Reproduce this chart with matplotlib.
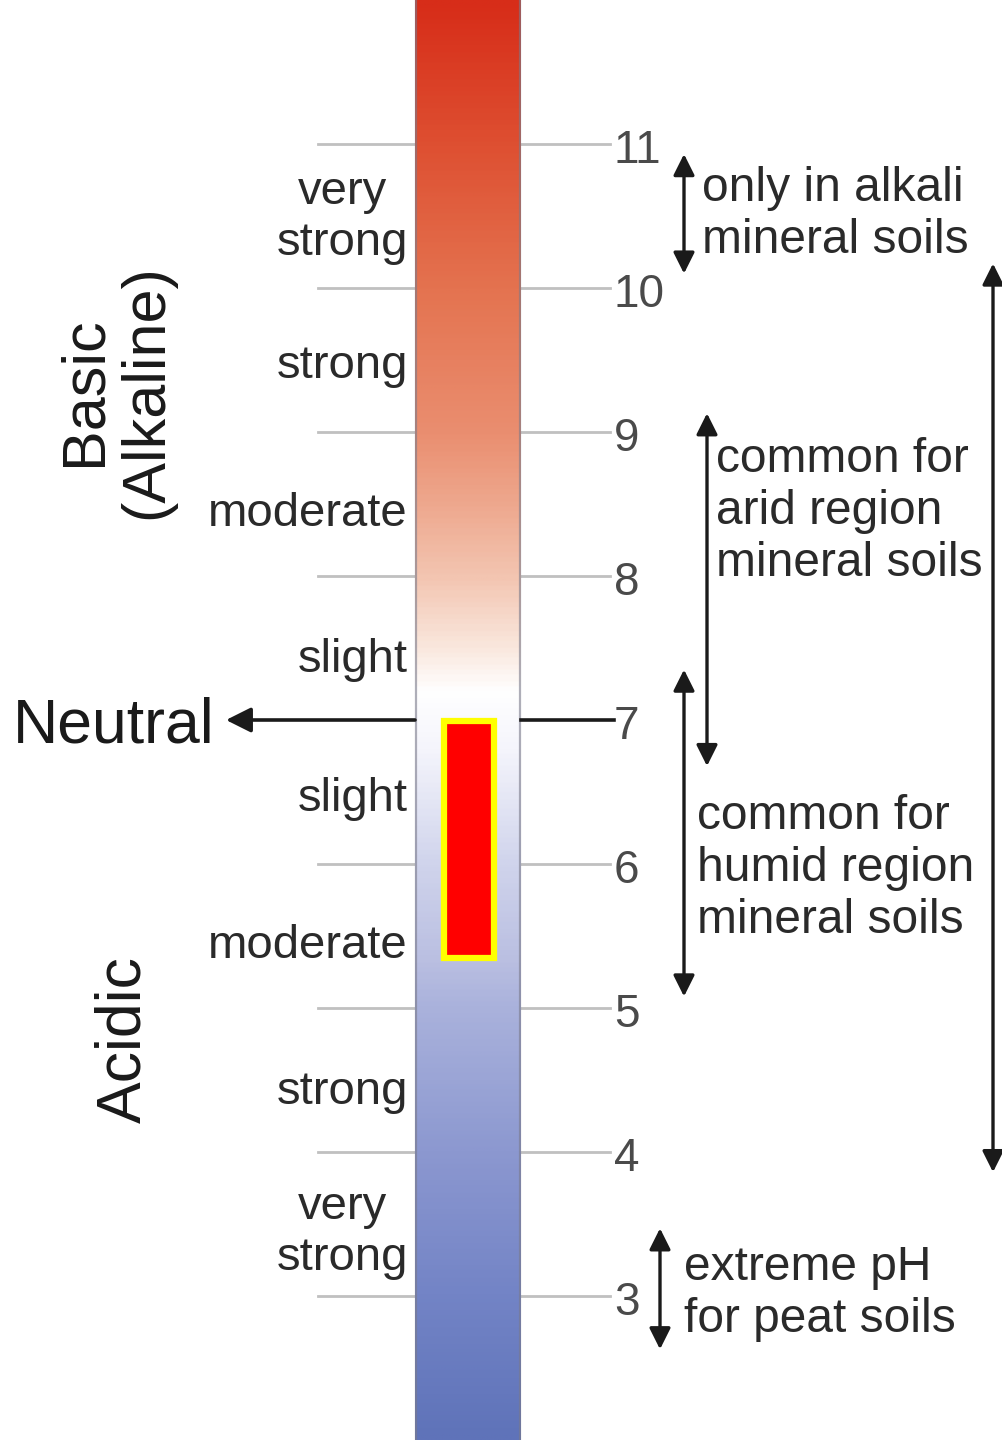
import numpy as np
import matplotlib
matplotlib.use("Agg")
import matplotlib.pyplot as plt
from matplotlib.colors import LinearSegmentedColormap
from matplotlib.patches import Rectangle

plt.rcParams['font.family'] = ['Liberation Sans', 'DejaVu Sans']

# ---- data ----
ph_ticks = [3, 4, 5, 6, 7, 8, 9, 10, 11]
ph_min, ph_max = 2, 12
strength_labels = ["very\nstrong", "strong", "moderate", "slight",
                   "slight", "moderate", "strong", "very\nstrong"]
strength_ph = [10.49, 9.46, 8.43, 7.42, 6.45, 5.43, 4.42, 3.44]
highlight_range = (5.35, 6.99)
neutral_ph = 7
range_labels = ["only in alkali\nmineral soils",
                "common for\narid region\nmineral soils",
                "common for\nhumid region\nmineral soils",
                "extreme pH\nfor peat soils"]
range_lo = [10.1, 6.68, 5.08, 2.63]
range_hi = [10.93, 9.13, 7.35, 3.47]
range_text_ph = [10.51, 8.45, 5.97, 3.02]
overall_range = (3.86, 10.17)
grad_ph = [2, 3, 4, 5, 5.3, 6, 6.8, 7.2, 7.5, 8, 8.5, 9, 10, 11, 12]
grad_rgb = [(95, 115, 185), (115, 132, 198), (140, 152, 208), (170, 178, 220),
            (185, 190, 225), (208, 212, 236), (245, 245, 252), (255, 255, 255),
            (250, 232, 222), (243, 197, 177), (238, 168, 142), (234, 142, 112),
            (228, 115, 80), (222, 80, 50), (215, 45, 25)]

# ---- figure ----
W, H = 1003, 1440
fig = plt.figure(figsize=(W / 100, H / 100), dpi=100)
ax = fig.add_axes([0, 0, 1, 1])
ax.set_xlim(0, W)
ax.set_ylim(ph_min, ph_max)
ax.axis('off')

bar_x0, bar_x1 = 415, 521

# gradient bar
pos = [(p - ph_min) / (ph_max - ph_min) for p in grad_ph]
cmap = LinearSegmentedColormap.from_list(
    'ph', list(zip(pos, [tuple(c / 255 for c in rgb) for rgb in grad_rgb])))
grad = np.linspace(ph_min, ph_max, 600).reshape(-1, 1)
ax.imshow(grad, cmap=cmap, vmin=ph_min, vmax=ph_max, origin='lower',
          extent=(bar_x0, bar_x1, ph_min, ph_max), aspect='auto', zorder=1)
# subtle edge shading
for xe in (bar_x0 + 1, bar_x1 - 1):
    ax.plot([xe, xe], [ph_min, ph_max], color='#7a7a8a', lw=1.6, alpha=0.6, zorder=2)

# tick lines and numbers
for p in ph_ticks:
    if p == neutral_ph:
        ax.plot([bar_x1, 614], [p, p], color='#1a1a1a', lw=2.6, zorder=2)
    else:
        ax.plot([318, bar_x0], [p, p], color='#c0c0c0', lw=2, zorder=0)
        ax.plot([bar_x1, 610], [p, p], color='#c0c0c0', lw=2, zorder=0)
    ax.text(614, p - 0.05, str(p), ha='left', va='center', fontsize=33,
            color='#4a4a4a', zorder=3)

# strength labels
for lab, p in zip(strength_labels, strength_ph):
    ax.text(408, p, lab, ha='right', va='center', multialignment='center',
            fontsize=34, color='#2a2a2a', linespacing=1.2)

# Neutral arrow
ax.annotate('', xy=(226, neutral_ph), xytext=(bar_x0, neutral_ph),
            arrowprops=dict(arrowstyle='-|>', color='#1a1a1a', lw=2.6,
                            mutation_scale=38, shrinkA=0, shrinkB=0))
ax.text(215, neutral_ph - 0.04, 'Neutral', ha='right', va='center', fontsize=45,
        color='#1a1a1a')

# Basic / Acidic
ax.text(116, 9.28, 'Basic\n(Alkaline)', ha='center', va='center', rotation=90,
        fontsize=44, color='#1a1a1a', linespacing=1.12, multialignment='center')
ax.text(124, 4.78, 'Acidic', ha='center', va='center', rotation=90,
        fontsize=45, color='#1a1a1a')

# highlight rectangle
ax.add_patch(Rectangle((444.5, highlight_range[0]), 49.5,
                       highlight_range[1] - highlight_range[0],
                       facecolor='#ff0000', edgecolor='#ffff00', lw=4.5, zorder=4))

# range arrows
arrow_x = [684, 707, 684, 660]
text_x = [702, 716, 697, 684]
for lo, hi, tp, lab, axx, tx in zip(range_lo, range_hi, range_text_ph,
                                    range_labels, arrow_x, text_x):
    ax.annotate('', xy=(axx, hi), xytext=(axx, lo),
                arrowprops=dict(arrowstyle='<|-|>', color='#1a1a1a', lw=2.4,
                                mutation_scale=32, shrinkA=0, shrinkB=0))
    ax.text(tx, tp, lab, ha='left', va='center', fontsize=34.5, color='#2a2a2a',
            linespacing=1.2)

ax.annotate('', xy=(993, overall_range[1]), xytext=(993, overall_range[0]),
            arrowprops=dict(arrowstyle='<|-|>', color='#1a1a1a', lw=2.4,
                            mutation_scale=32, shrinkA=0, shrinkB=0))

fig.savefig('out.png', dpi=100, facecolor='white')
